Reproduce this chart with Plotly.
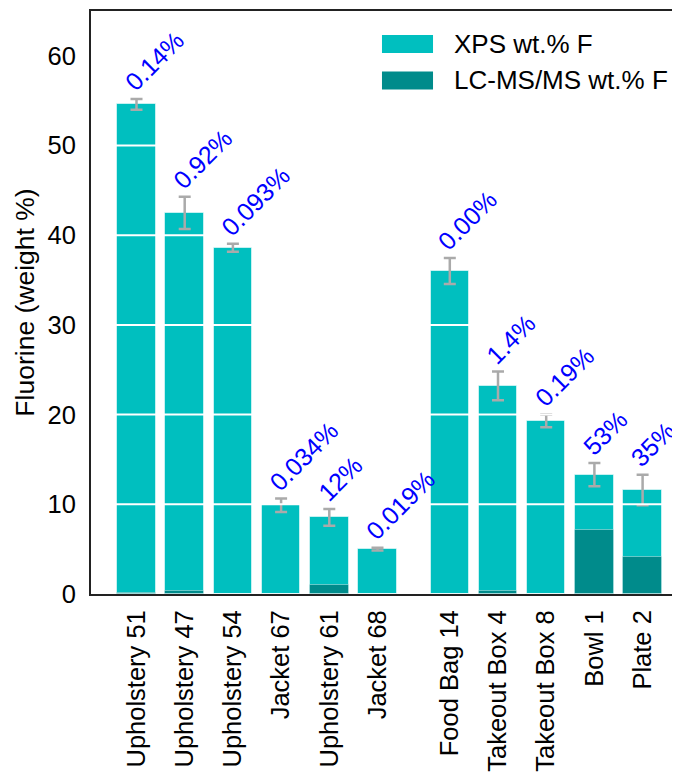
import plotly.graph_objects as go

# ---- data ----
categories = ["Upholstery 51", "Upholstery 47", "Upholstery 54", "Jacket 67",
              "Upholstery 61", "Jacket 68", "Food Bag 14", "Takeout Box 4",
              "Takeout Box 8", "Bowl 1", "Plate 2"]
xps_wt = [54.6, 42.5, 38.6, 9.9, 8.55, 5.0, 36.0, 23.2, 19.3, 13.3, 11.6]
xps_err = [0.6, 1.8, 0.45, 0.75, 0.93, 0.15, 1.45, 1.6, 0.7, 1.3, 1.7]
lcms_wt = [0.08, 0.39, 0.04, 0.003, 1.05, 0.001, 0.0, 0.33, 0.04, 7.1, 4.1]
ratio_labels = ["0.14%", "0.92%", "0.093%", "0.034%", "12%", "0.019%",
                "0.00%", "1.4%", "0.19%", "53%", "35%"]
group = [0, 0, 0, 0, 0, 0, 1, 1, 1, 1, 1]   # textiles vs food packaging
y_ticks = [0, 10, 20, 30, 40, 50, 60]

# x positions: consecutive slots with an extra half-slot gap between groups
xpos = [i + 0.5 * g for i, g in enumerate(group)]

XPS_COLOR = "#00BFBF"
LC_COLOR = "#008B8B"
FONT = "Liberation Sans, Arial, sans-serif"

fig = go.Figure()
fig.add_trace(go.Bar(
    x=xpos, y=xps_wt, width=0.8, name="XPS wt.% F",
    marker=dict(color=XPS_COLOR, line=dict(color="rgba(255,255,255,0.55)", width=1)),
    error_y=dict(type="data", array=xps_err, color="#AAAAAA", thickness=2.5, width=6),
    showlegend=False,
))
fig.add_trace(go.Bar(
    x=xpos, y=lcms_wt, width=0.8, name="LC-MS/MS wt.% F",
    marker=dict(color=LC_COLOR, line=dict(color="rgba(255,255,255,0.4)", width=1)),
    showlegend=False,
))

# white gridlines drawn over the bars
shapes = []
for t in y_ticks[1:]:
    shapes.append(dict(type="line", xref="paper", yref="y", x0=0, x1=1, y0=t, y1=t,
                       line=dict(color="white", width=2), layer="above"))

# manual legend (large swatches)
legend_items = [("XPS wt.% F", XPS_COLOR, 0.9434), ("LC-MS/MS wt.% F", LC_COLOR, 0.8808)]
annotations = []
for text, col, yc in legend_items:
    shapes.append(dict(type="rect", xref="paper", yref="paper", x0=0.4874, x1=0.5729,
                       y0=yc - 0.0154, y1=yc + 0.0154, fillcolor=col,
                       line=dict(width=0), layer="above"))
    annotations.append(dict(xref="paper", yref="paper", x=0.604, y=yc, text=text,
                            showarrow=False, xanchor="left", yanchor="middle",
                            font=dict(family=FONT, size=26, color="black")))

# ratio labels above each bar
for xp, v, e, lab in zip(xpos, xps_wt, xps_err, ratio_labels):
    annotations.append(dict(x=xp, y=v + e, text=lab, showarrow=False, textangle=-45,
                            xanchor="left", yanchor="bottom", xshift=-20, yshift=0,
                            font=dict(family=FONT, size=25, color="blue")))

fig.update_layout(
    width=680, height=773,
    margin=dict(l=83, r=0, t=3, b=187, autoexpand=False),
    plot_bgcolor="white", paper_bgcolor="white",
    barmode="overlay", bargap=0,
    font=dict(family=FONT, size=25.5, color="black"),
    shapes=shapes, annotations=annotations,
    xaxis=dict(range=[-0.944, 11.442], tickmode="array", tickvals=xpos,
               ticktext=categories, tickangle=-90, showgrid=False, zeroline=False,
               showline=True, linecolor="#222", linewidth=2, mirror=True, ticks="",
               tickfont=dict(size=25.5), ticklabelstandoff=4),
    yaxis=dict(range=[0, 65], tickmode="array", tickvals=y_ticks, showgrid=False,
               zeroline=False, showline=True, linecolor="#222", linewidth=2,
               ticks="", tickfont=dict(size=25.5), ticklabelstandoff=8,
               title=dict(text="Fluorine (weight %)", font=dict(size=26.5), standoff=5)),
)

fig.write_html("out.html")
